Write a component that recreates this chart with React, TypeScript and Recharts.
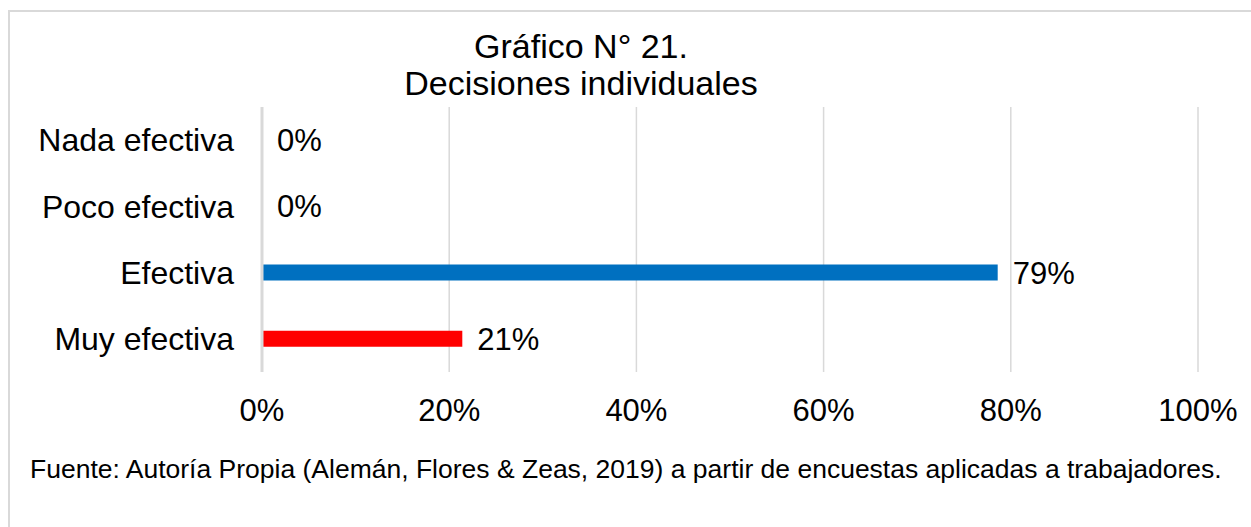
import { Bar, BarChart, CartesianGrid, Cell, LabelList, ReferenceLine, XAxis, YAxis } from "recharts";

const categories = ["Nada efectiva", "Poco efectiva", "Efectiva", "Muy efectiva"];
const shares = [0, 0, 78.6, 21.4];
const barColors = ["#0070C0", "#0070C0", "#0070C0", "#FF0000"];
const xTicks = [0, 20, 40, 60, 80, 100];

const titleLines = ["Gráfico N° 21.", "Decisiones individuales"];
const source =
  "Fuente: Autoría Propia (Alemán, Flores & Zeas, 2019) a partir de encuestas aplicadas a trabajadores.";

const font = "'Liberation Sans', Arial, sans-serif";
const gridColor = "#d9d9d9";

const data = categories.map((name, i) => ({ name, value: shares[i] }));

export default function App() {
  return (
    <div
      style={{
        position: "absolute",
        left: 0,
        top: 0,
        width: 1251,
        height: 527,
        background: "#fff",
        overflow: "hidden",
        fontFamily: font,
      }}
    >
      {/* frame, only top and left edges are visible in the crop */}
      <div
        style={{
          position: "absolute",
          left: 8,
          top: 10,
          width: 1300,
          height: 600,
          borderTop: `2px solid ${gridColor}`,
          borderLeft: `2px solid ${gridColor}`,
        }}
      />

      <div
        style={{
          position: "absolute",
          left: 381,
          top: 28,
          width: 400,
          textAlign: "center",
          fontSize: 34,
          lineHeight: "37px",
          color: "#000",
        }}
      >
        {titleLines.map((line) => (
          <div key={line}>{line}</div>
        ))}
      </div>

      <div style={{ position: "absolute", left: 0, top: 0 }}>
        <BarChart
          width={1251}
          height={527}
          data={data}
          layout="vertical"
          margin={{ top: 107, right: 53, left: 0, bottom: 125 }}
          barSize={16}
        >
          <CartesianGrid horizontal={false} stroke={gridColor} strokeWidth={1.5} />
          <XAxis
            type="number"
            domain={[0, 100]}
            ticks={xTicks}
            tickFormatter={(v) => `${v}%`}
            axisLine={false}
            tickLine={false}
            tickSize={0}
            tickMargin={27}
            tick={{ fontSize: 31, fill: "#000", fontFamily: font }}
            interval={0}
          />
          <YAxis
            type="category"
            dataKey="name"
            width={262}
            axisLine={false}
            tickLine={false}
            tickSize={0}
            tickMargin={28}
            tick={{ fontSize: 32, fill: "#000", fontFamily: font }}
            interval={0}
          />
          <ReferenceLine x={0} stroke={gridColor} strokeWidth={3} />
          <Bar dataKey="value" isAnimationActive={false} minPointSize={0.01}>
            {data.map((d, i) => (
              <Cell key={d.name} fill={barColors[i]} />
            ))}
            <LabelList
              dataKey="value"
              position="right"
              offset={15}
              formatter={(v: number) => `${Math.round(v)}%`}
              style={{ fontSize: 31, fill: "#000", fontFamily: font }}
            />
          </Bar>
        </BarChart>
      </div>

      <div
        style={{
          position: "absolute",
          left: 30,
          top: 454,
          fontSize: 26.5,
          lineHeight: "30px",
          color: "#000",
          whiteSpace: "nowrap",
        }}
      >
        {source}
      </div>
    </div>
  );
}
